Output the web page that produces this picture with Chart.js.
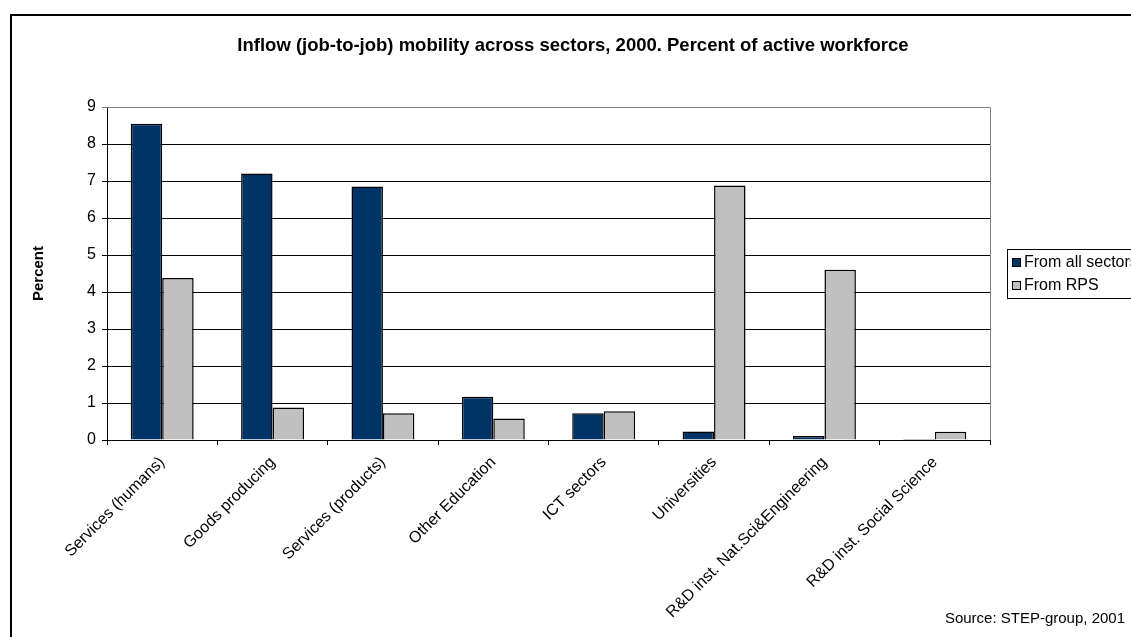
<!DOCTYPE html>
<html>
<head>
<meta charset="utf-8">
<script src="https://cdn.jsdelivr.net/npm/chart.js@4"></script>
<style>
  html, body { margin: 0; padding: 0; background: #fff; }
  #wrap { width: 1131px; height: 637px; }
</style>
</head>
<body>
<div id="wrap"><canvas id="mobilityChart" width="1131" height="637"></canvas></div>
<script>
const sectors = ["Services (humans)", "Goods producing", "Services (products)", "Other Education",
    "ICT sectors", "Universities", "R&D inst. Nat.Sci&Engineering", "R&D inst. Social Science"];
const fromAllSectors = [8.55, 7.2, 6.85, 1.17, 0.72, 0.23, 0.11, 0.03];
const fromRPS = [4.38, 0.88, 0.72, 0.58, 0.78, 6.88, 4.6, 0.22];
const yTicks = [0, 1, 2, 3, 4, 5, 6, 7, 8, 9];

const chartTitle = "Inflow (job-to-job) mobility across sectors, 2000. Percent of active workforce";
const sourceNote = "Source: STEP-group, 2001";
const fontFamily = "Arial, 'Liberation Sans', sans-serif";

// frame, title, plot border, legend and source line
const decorations = {
    id: "decorations",
    afterDraw(chart) {
        const ctx = chart.ctx;
        const area = chart.chartArea;
        ctx.save();

        ctx.strokeStyle = "#000";
        ctx.lineWidth = 2;
        ctx.strokeRect(11, 15, 1300, 1000);

        ctx.fillStyle = "#000";
        ctx.font = "bold 18.5px " + fontFamily;
        ctx.textAlign = "center";
        ctx.textBaseline = "middle";
        ctx.fillText(chartTitle, 573, 46);

        // grey top/right border of plot area
        ctx.strokeStyle = "#808080";
        ctx.lineWidth = 1;
        ctx.beginPath();
        ctx.moveTo(area.left, area.top + 0.5);
        ctx.lineTo(area.right + 0.5, area.top + 0.5);
        ctx.lineTo(area.right + 0.5, area.bottom);
        ctx.stroke();

        // legend box
        const lx = 1007, ly = 249;
        ctx.strokeStyle = "#000";
        ctx.strokeRect(lx + 0.5, ly + 0.5, 200, 49);
        ctx.font = "16px " + fontFamily;
        ctx.textAlign = "left";
        chart.data.datasets.forEach(function (ds, i) {
            const y = ly + 14 + i * 23;
            ctx.fillStyle = ds.backgroundColor;
            ctx.fillRect(lx + 5, y - 5, 9, 9);
            ctx.strokeRect(lx + 5.5, y - 4.5, 8, 8);
            ctx.fillStyle = "#000";
            ctx.fillText(ds.label, lx + 17, y);
        });

        ctx.font = "15px " + fontFamily;
        ctx.textAlign = "right";
        ctx.fillText(sourceNote, 1125, 619);
        ctx.restore();
    }
};

new Chart(document.getElementById("mobilityChart"), {
    type: "bar",
    data: {
        labels: sectors,
        datasets: [{
            label: "From all sectors",
            data: fromAllSectors,
            backgroundColor: "#003366",
            borderColor: "#000",
            borderWidth: 1.5,
            categoryPercentage: 0.57,
            barPercentage: 1.0
        }, {
            label: "From RPS",
            data: fromRPS,
            backgroundColor: "#C0C0C0",
            borderColor: "#000",
            borderWidth: 1.5,
            categoryPercentage: 0.57,
            barPercentage: 1.0
        }]
    },
    options: {
        responsive: false,
        animation: false,
        layout: { padding: { top: 107, right: 141, left: 0, bottom: 0 } },
        plugins: {
            legend: { display: false },
            title: { display: false },
            tooltip: { enabled: false }
        },
        scales: {
            x: {
                offset: true,
                grid: { offset: true, drawOnChartArea: false, drawTicks: true, tickLength: 5, color: "#000" },
                border: { color: "#000", width: 1 },
                ticks: {
                    minRotation: 45,
                    maxRotation: 45,
                    autoSkip: false,
                    padding: 8,
                    color: "#000",
                    font: { family: fontFamily, size: 16 }
                },
                afterFit: function (scale) { scale.height = 197; }
            },
            y: {
                min: 0,
                max: 9,
                afterBuildTicks: function (scale) {
                    scale.ticks = yTicks.map(function (v) { return { value: v }; });
                },
                grid: {
                    color: function (c) { return c.tick && c.tick.value === 9 ? "#808080" : "#000"; },
                    tickLength: 5
                },
                border: { color: "#000", width: 1 },
                ticks: {
                    padding: 6,
                    color: "#000",
                    font: { family: fontFamily, size: 16 }
                },
                title: {
                    display: true,
                    text: "Percent",
                    color: "#000",
                    font: { family: fontFamily, size: 15, weight: "bold" },
                    padding: { top: 30, bottom: 0 }
                },
                afterFit: function (scale) { scale.width = 107; }
            }
        }
    },
    plugins: [decorations]
});
</script>
</body>
</html>
